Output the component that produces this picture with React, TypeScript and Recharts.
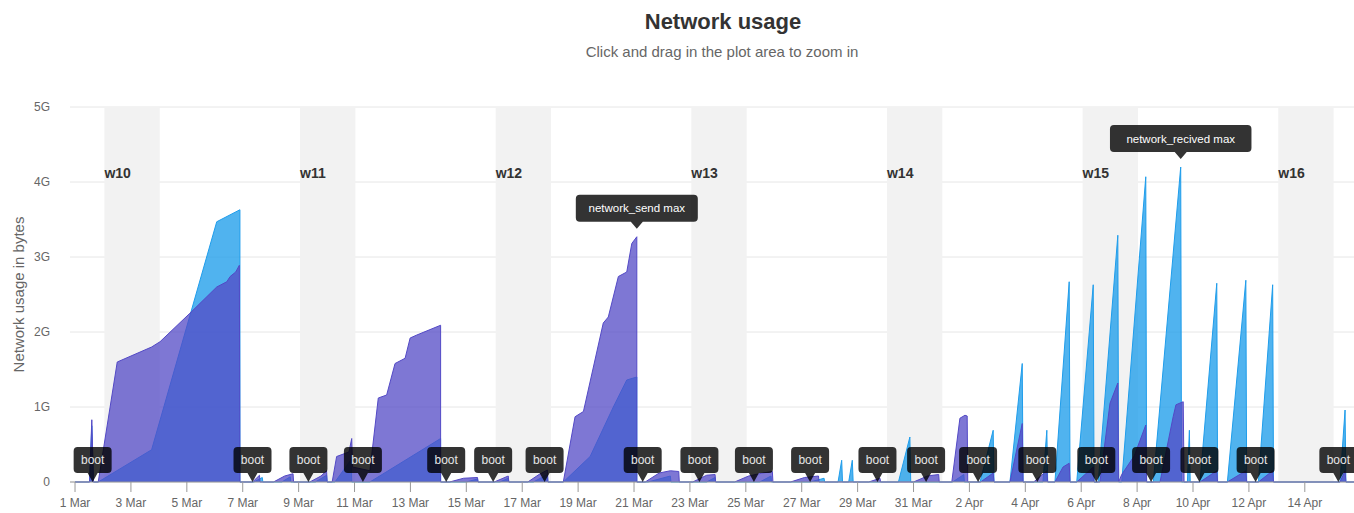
import { ComposedChart, Area, Scatter, XAxis, YAxis, CartesianGrid, ReferenceArea, ReferenceDot } from 'recharts';

// x = days since 1 Mar 00:00, v = gigabytes
const networkRecived: [number, number][] = [
  [0, 0], [0.52, 0], [0.6, 0.75], [0.66, 0], [0.83, 0], [2.74, 0.43], [5.07, 3.47], [5.9, 3.63], [5.9, 0],
  [6.4, 0], [6.7, 0.06], [6.72, 0], [7.4, 0], [7.7, 0.07], [7.72, 0], [8.6, 0], [9.0, 0.09], [9.02, 0],
  [9.3, 0], [9.88, 0.3], [9.9, 0], [10.55, 0], [13.08, 0.58], [13.08, 0],
  [14.0, 0], [14.4, 0.04], [14.42, 0], [15.2, 0], [15.5, 0.05], [15.52, 0], [16.4, 0], [16.9, 0.1], [16.92, 0],
  [17.47, 0], [18.43, 0.34], [19.26, 1.0], [19.74, 1.36], [20.1, 1.4], [20.1, 0],
  [20.5, 0], [21.3, 0.08], [21.32, 0], [22.6, 0], [22.9, 0.06], [22.92, 0], [24.5, 0], [24.9, 0.08], [24.92, 0],
  [26.3, 0], [26.8, 0.05], [26.82, 0], [27.3, 0], [27.43, 0.29], [27.46, 0], [27.68, 0], [27.81, 0.29], [27.84, 0],
  [29.46, 0], [29.87, 0.6], [29.9, 0], [31.4, 0], [31.8, 0.1], [31.82, 0],
  [32.38, 0], [32.85, 0.69], [32.88, 0], [33.45, 0], [33.89, 1.58], [33.92, 0], [34.63, 0], [34.77, 0.69], [34.8, 0],
  [35.06, 0], [35.57, 2.67], [35.6, 0], [35.84, 0], [36.43, 2.63], [36.46, 0], [36.61, 0], [37.31, 3.29], [37.34, 0],
  [37.45, 0], [38.31, 4.07], [38.34, 0], [38.58, 0], [39.56, 4.2], [39.59, 0], [39.8, 0], [39.87, 0.69], [39.9, 0],
  [40.25, 0], [40.85, 2.65], [40.88, 0], [41.23, 0], [41.89, 2.69], [41.92, 0], [42.34, 0], [42.85, 2.63], [42.88, 0],
  [45.26, 0], [45.44, 0.96], [45.47, 0], [45.76, 0],
];

const networkSend: [number, number][] = [
  [0, 0], [0.52, 0], [0.6, 0.83], [0.66, 0], [0.83, 0], [1.51, 1.6], [2.74, 1.8], [3.04, 1.87], [4.11, 2.25],
  [5.07, 2.6], [5.43, 2.67], [5.55, 2.74], [5.75, 2.8], [5.88, 2.89], [5.9, 0],
  [6.35, 0], [6.6, 0.09], [6.62, 0], [7.1, 0], [7.5, 0.08], [7.8, 0.11], [7.82, 0], [8.4, 0], [8.8, 0.08], [9.0, 0.15], [9.02, 0],
  [9.2, 0], [9.36, 0.34], [9.8, 0.4], [9.9, 0.58], [9.93, 0.2], [10.55, 0.15], [10.85, 1.12], [11.15, 1.16],
  [11.45, 1.58], [11.81, 1.65], [11.99, 1.92], [12.23, 1.96], [13.08, 2.09], [13.08, 0],
  [13.4, 0], [13.9, 0.05], [14.4, 0.06], [14.42, 0], [15.0, 0], [15.5, 0.08], [15.52, 0], [16.2, 0], [16.6, 0.1], [16.9, 0.16], [16.92, 0],
  [17.47, 0], [17.89, 0.87], [18.19, 0.94], [18.9, 2.12], [19.08, 2.2], [19.44, 2.74], [19.74, 2.8], [19.92, 3.18], [20.1, 3.27], [20.1, 0],
  [20.4, 0], [20.9, 0.12], [21.3, 0.15], [21.6, 0.14], [21.62, 0], [22.1, 0], [22.6, 0.09], [22.9, 0.1], [22.92, 0],
  [23.6, 0], [24.1, 0.08], [24.6, 0.12], [24.95, 0.14], [24.97, 0], [25.6, 0], [26.1, 0.06], [26.6, 0.08], [26.62, 0],
  [28.4, 0], [28.8, 0.05], [28.82, 0], [30.0, 0], [30.5, 0.08], [30.9, 0.1], [30.92, 0],
  [31.37, 0], [31.66, 0.85], [31.84, 0.89], [31.92, 0.88], [31.94, 0], [32.4, 0], [32.85, 0.12], [32.88, 0],
  [33.45, 0], [33.89, 0.78], [33.92, 0], [34.3, 0], [34.77, 0.15], [34.8, 0], [35.06, 0], [35.35, 0.2], [35.57, 0.25], [35.6, 0],
  [35.84, 0], [36.43, 0.2], [36.46, 0], [36.67, 0], [37.03, 1.05], [37.31, 1.32], [37.34, 0], [37.45, 0.1], [37.9, 0.35],
  [38.31, 0.76], [38.34, 0], [38.82, 0], [39.29, 0.87], [39.39, 1.03], [39.65, 1.07], [39.68, 0],
  [40.25, 0], [40.85, 0.15], [40.88, 0], [41.23, 0], [41.89, 0.15], [41.92, 0], [42.34, 0], [42.85, 0.15], [42.88, 0],
  [45.26, 0], [45.44, 0.15], [45.47, 0], [45.76, 0],
];

const bootDays = [0.63, 6.35, 8.35, 10.3, 13.28, 14.96, 16.8, 20.31, 22.34, 24.29, 26.3, 28.71, 30.45, 32.31, 34.43, 36.54, 38.5, 40.23, 42.24, 45.2];

const weekLabels = ['w10', 'w11', 'w12', 'w13', 'w14', 'w15', 'w16'];
const weekendStarts = [1.05, 8.05, 15.05, 22.05, 29.05, 36.05, 43.05];
const weekendLength = 1.98;

const xTicks = [0, 2, 4, 6, 8, 10, 12, 14, 16, 18, 20, 22, 24, 26, 28, 30, 32, 34, 36, 38, 40, 42, 44];
const yTicks = [0, 1, 2, 3, 4, 5];

const FONT = '"Liberation Sans", Arial, Helvetica, sans-serif';
const RECV = '#1f9deb';
const SEND = '#5349c6';

const toRows = (pts: [number, number][]) => pts.map(([x, v]) => ({ x, v }));
const recvRows = toRows(networkRecived);
const sendRows = toRows(networkSend);
const bootRows = bootDays.map(x => ({ x, v: 0 }));

const maxOf = (rows: { x: number; v: number }[]) => rows.reduce((m, r) => (r.v > m.v ? r : m), rows[0]);
const sendMax = maxOf(sendRows);
const recvMax = maxOf(recvRows);

const formatDay = (d: number) => (d < 31 ? `${d + 1} Mar` : `${d - 30} Apr`);

function BootFlag(props: any) {
  const { cx, cy } = props;
  const w = 38, h = 26, tip = 9;
  const top = cy - tip - h;
  const path = `M${cx - w / 2 + 4},${top} L${cx + w / 2 - 4},${top} Q${cx + w / 2},${top} ${cx + w / 2},${top + 4} L${cx + w / 2},${top + h - 4} Q${cx + w / 2},${top + h} ${cx + w / 2 - 4},${top + h} L${cx + 5},${top + h} L${cx},${cy} L${cx - 5},${top + h} L${cx - w / 2 + 4},${top + h} Q${cx - w / 2},${top + h} ${cx - w / 2},${top + h - 4} L${cx - w / 2},${top + 4} Q${cx - w / 2},${top} ${cx - w / 2 + 4},${top} Z`;
  return (
    <g>
      <path d={path} fill="rgba(0,0,0,0.8)" />
      <text x={cx} y={top + h / 2} textAnchor="middle" dominantBaseline="central" fontSize={12} fill="#e6e6e6" fontFamily={FONT}>boot</text>
    </g>
  );
}

function MaxCallout({ cx, cy, text }: { cx: number; cy: number; text: string }) {
  const w = text.length * 6.5 + 18, h = 27;
  const tipY = cy - 8;
  const bottom = tipY - 7;
  const top = bottom - h;
  const l = cx - w / 2, r = cx + w / 2;
  const path = `M${l + 4},${top} L${r - 4},${top} Q${r},${top} ${r},${top + 4} L${r},${bottom - 4} Q${r},${bottom} ${r - 4},${bottom} L${cx + 6},${bottom} L${cx},${tipY} L${cx - 6},${bottom} L${l + 4},${bottom} Q${l},${bottom} ${l},${bottom - 4} L${l},${top + 4} Q${l},${top} ${l + 4},${top} Z`;
  return (
    <g>
      <path d={path} fill="rgba(0,0,0,0.8)" />
      <text x={cx} y={top + h / 2} textAnchor="middle" dominantBaseline="central" fontSize={11.5} fill="#ffffff" fontFamily={FONT}>{text}</text>
    </g>
  );
}

const weekLabel = (text: string) => (props: any) => {
  const vb = props.viewBox || {};
  return (
    <text x={vb.x} y={vb.y + 71} fontSize={14} fontWeight="bold" fill="#333" fontFamily={FONT}>{text}</text>
  );
};

const yTitle = (props: any) => {
  const vb = props.viewBox || {};
  const cy = vb.y + vb.height / 2;
  return (
    <text x={18} y={cy} transform={`rotate(-90, 18, ${cy})`} textAnchor="middle" dominantBaseline="central" fontSize={15} fill="#666" fontFamily={FONT}>
      Network usage in bytes
    </text>
  );
};

export default function App() {
  return (
    <div style={{ position: 'absolute', left: 0, top: 0, width: 1354, height: 513, background: '#fff', fontFamily: FONT }}>
      <div style={{ position: 'absolute', left: 723, top: 9, transform: 'translateX(-50%)', whiteSpace: 'nowrap', fontSize: 22, fontWeight: 'bold', color: '#333' }}>
        Network usage
      </div>
      <div style={{ position: 'absolute', left: 722, top: 43, transform: 'translateX(-50%)', whiteSpace: 'nowrap', fontSize: 15, color: '#666' }}>
        Click and drag in the plot area to zoom in
      </div>
      <ComposedChart width={1354} height={513} margin={{ top: 107, right: 0, bottom: 0, left: 0 }}>
        {weekendStarts.map((s, i) => (
          <ReferenceArea
            key={weekLabels[i]}
            x1={s}
            x2={s + weekendLength}
            y1={0}
            y2={5}
            fill="#f2f2f2"
            fillOpacity={1}
            stroke="none"
            ifOverflow="hidden"
            label={weekLabel(weekLabels[i])}
          />
        ))}
        <CartesianGrid vertical={false} stroke="#e6e6e6" />
        <XAxis
          type="number"
          dataKey="x"
          domain={[-0.18, 45.76]}
          allowDataOverflow
          ticks={xTicks}
          tickFormatter={formatDay}
          height={31}
          tickSize={10}
          tickMargin={6}
          stroke="#999"
          tick={{ fontSize: 12, fill: '#666', fontFamily: FONT }}
        />
        <YAxis
          type="number"
          dataKey="v"
          domain={[0, 5]}
          ticks={yTicks}
          width={70}
          axisLine={false}
          tickLine={false}
          tickSize={0}
          tickMargin={20}
          tickFormatter={(v: number) => (v === 0 ? '0' : `${v}G`)}
          tick={{ fontSize: 12, fill: '#666', fontFamily: FONT }}
          label={yTitle}
        />
        <Area
          data={recvRows}
          dataKey="v"
          name="network_recived"
          type="linear"
          stroke={RECV}
          strokeWidth={1}
          fill={RECV}
          fillOpacity={0.78}
          dot={false}
          activeDot={false}
          isAnimationActive={false}
        />
        <Area
          data={sendRows}
          dataKey="v"
          name="network_send"
          type="linear"
          stroke={SEND}
          strokeWidth={1}
          fill={SEND}
          fillOpacity={0.75}
          dot={false}
          activeDot={false}
          isAnimationActive={false}
        />
        <Scatter data={bootRows} dataKey="v" name="boot" shape={BootFlag} isAnimationActive={false} />
        <ReferenceDot x={sendMax.x} y={sendMax.v} r={0} shape={(p: any) => <MaxCallout cx={p.cx} cy={p.cy} text="network_send max" />} />
        <ReferenceDot x={recvMax.x} y={recvMax.v} r={0} shape={(p: any) => <MaxCallout cx={p.cx} cy={p.cy} text="network_recived max" />} />
      </ComposedChart>
    </div>
  );
}
